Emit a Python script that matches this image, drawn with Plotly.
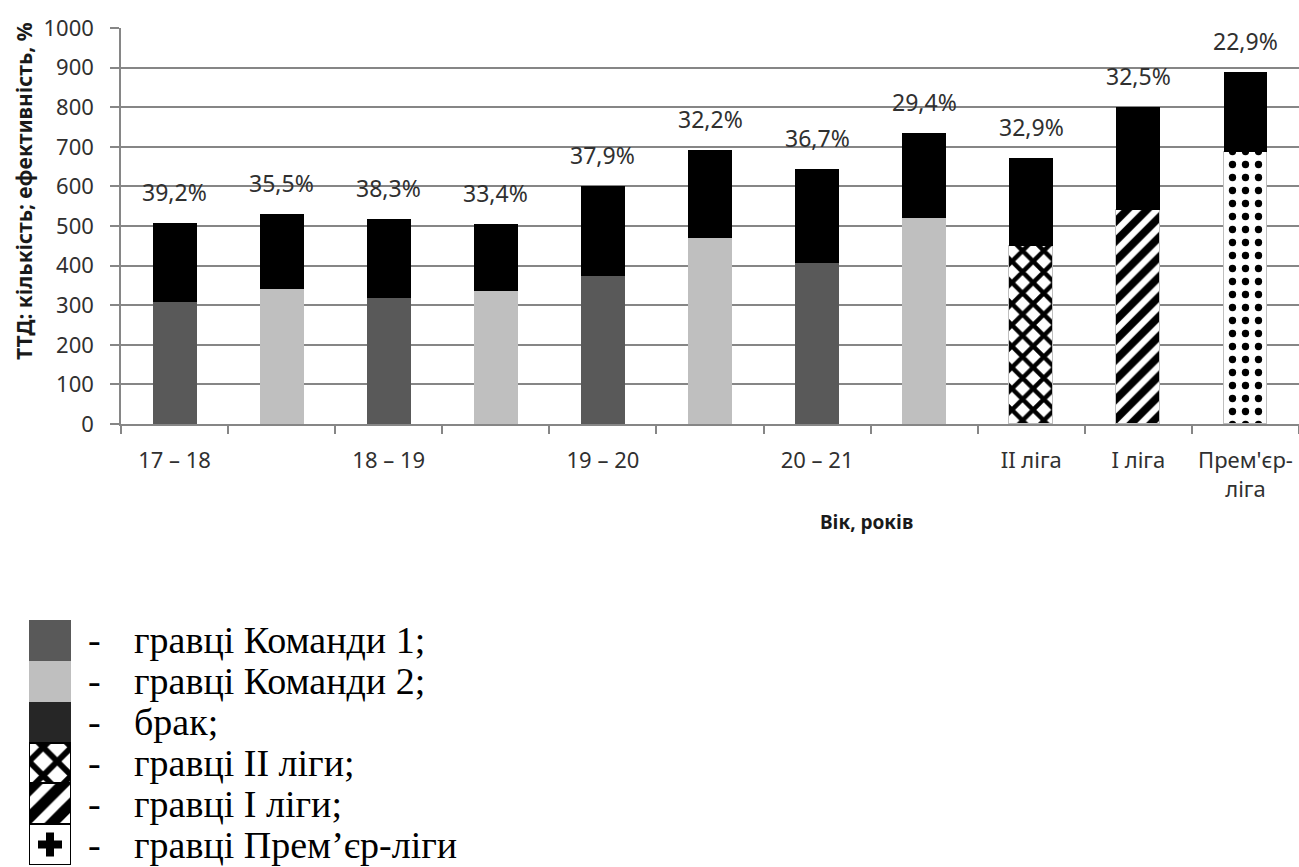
import plotly.graph_objects as go

# ---- data -------------------------------------------------------------
categories = ["17 – 18", "", "18 – 19", "", "19 – 20", "", "20 – 21", "",
              "II ліга", "I ліга", "Прем'єр-<br>ліга"]

team1_pos = [0, 2, 4, 6]
team1_players = [308, 319, 373, 407]

team2_pos = [1, 3, 5, 7]
team2_players = [342, 337, 469, 519]

league2_players = [450]
league1_players = [540]
premier_players = [686]

defects = [199, 188, 198, 169, 228, 223, 236, 216, 221, 260, 204]
efficiency_labels = ["39,2%", "35,5%", "38,3%", "33,4%", "37,9%", "32,2%",
                     "36,7%", "29,4%", "32,9%", "32,5%", "22,9%"]

legend_names = ["гравці Команди 1;", "гравці Команди 2;", "брак;",
                "гравці II ліги;", "гравці I ліги;", "гравці Прем’єр-ліги"]

# ---- styles -----------------------------------------------------------
W, H = 1299, 867
TEAM1 = "#595959"
TEAM2 = "#bfbfbf"
DEFECT = "#000000"
GRID = "#868686"
TXT = "#303030"
SANS = "Noto Sans"
SERIF = "Liberation Serif"
BAR_W = 0.41

pat_line = dict(width=1, color="#bfbfbf")
diamond = dict(shape="x", fgcolor="black", bgcolor="white", size=15, solidity=0.5, fillmode="replace")
hound = dict(shape="/", fgcolor="black", bgcolor="white", size=14, solidity=0.55, fillmode="replace")
crosses = dict(shape=".", fgcolor="black", bgcolor="white", size=13, solidity=0.25, fillmode="replace")

n = len(categories)
idx = list(range(n))
bottoms = [0] * n
for p, v in zip(team1_pos, team1_players):
    bottoms[p] = v
for p, v in zip(team2_pos, team2_players):
    bottoms[p] = v
bottoms[8] = league2_players[0]
bottoms[9] = league1_players[0]
bottoms[10] = premier_players[0]
totals = [b + d for b, d in zip(bottoms, defects)]

fig = go.Figure()

# ---- main stacked bars --------------------------------------------------
fig.add_trace(go.Bar(x=team1_pos, y=team1_players, width=BAR_W,
                     marker=dict(color=TEAM1, line=dict(width=0)), showlegend=False))
fig.add_trace(go.Bar(x=team2_pos, y=team2_players, width=BAR_W,
                     marker=dict(color=TEAM2, line=dict(width=0)), showlegend=False))
fig.add_trace(go.Bar(x=[8], y=league2_players, width=BAR_W,
                     marker=dict(color="white", pattern=diamond, line=pat_line), showlegend=False))
fig.add_trace(go.Bar(x=[9], y=league1_players, width=BAR_W,
                     marker=dict(color="white", pattern=hound, line=pat_line), showlegend=False))
fig.add_trace(go.Bar(x=[10], y=premier_players, width=BAR_W,
                     marker=dict(color="white", pattern=crosses, line=pat_line), showlegend=False))
fig.add_trace(go.Bar(x=idx, y=defects, width=BAR_W,
                     marker=dict(color=DEFECT, line=dict(width=0)), showlegend=False))

# ---- key swatches (stacked one per row on their own axes) --------------
key_styles = [
    dict(color=TEAM1, line=dict(width=0)),
    dict(color=TEAM2, line=dict(width=0)),
    dict(color="#262626", line=dict(width=0)),
    dict(color="white", pattern=dict(diamond, size=20, solidity=0.5), line=dict(width=2.5, color="black")),
    dict(color="white", pattern=dict(hound, size=20), line=dict(width=2.5, color="black")),
    dict(color="white", line=dict(width=2.5, color="black")),
]
for st in key_styles:
    fig.add_trace(go.Bar(x=[0.5], y=[1], width=1, marker=st, xaxis="x2", yaxis="y2",
                         showlegend=False, hoverinfo="skip"))
# single cross glyph inside the last key box
fig.add_trace(go.Scatter(x=[0.5], y=[len(legend_names) - 0.5], mode="markers",
                         marker=dict(symbol="cross", size=20, color="black"),
                         xaxis="x2", yaxis="y2", showlegend=False, hoverinfo="skip"))

annotations = []
# efficiency labels above each bar
for i, (t, lab) in enumerate(zip(totals, efficiency_labels)):
    annotations.append(dict(x=i, y=t, xref="x", yref="y", text=lab, showarrow=False,
                            yshift=31, yanchor="middle",
                            font=dict(family=SANS, size=23, color=TXT)))
# axis titles
annotations.append(dict(x=24 / W, y=1 - 191 / H, xref="paper", yref="paper",
                        text="<b>ТТД: кількість; ефективність, %</b>", textangle=-90,
                        showarrow=False, xanchor="center", yanchor="middle",
                        font=dict(family=SANS, size=21, color="#1a1a1a")))
annotations.append(dict(x=866 / W, y=1 - 522 / H, xref="paper", yref="paper",
                        text="<b>Вік, років</b>", showarrow=False,
                        xanchor="center", yanchor="middle",
                        font=dict(family=SANS, size=19, color="#1a1a1a")))
# key text
for i, name in enumerate(legend_names):
    annotations.append(dict(x=86 / W, y=i + 0.5, xref="paper", yref="y2", text="-",
                            showarrow=False, xanchor="left", yanchor="middle",
                            font=dict(family=SERIF, size=38, color="black")))
    annotations.append(dict(x=132 / W, y=i + 0.5, xref="paper", yref="y2", text=name,
                            showarrow=False, xanchor="left", yanchor="middle",
                            font=dict(family=SERIF, size=38, color="black")))

fig.update_layout(
    width=W, height=H,
    margin=dict(l=0, r=0, t=0, b=0),
    paper_bgcolor="white", plot_bgcolor="white",
    barmode="stack", bargap=0,
    showlegend=False,
    annotations=annotations,
    xaxis=dict(
        domain=[121 / W, 1], range=[-0.5, n - 0.5], automargin=False,
        tickmode="array", tickvals=idx, ticktext=categories,
        ticks="", ticklabelstandoff=16,
        tickfont=dict(family=SANS, size=22, color=TXT),
        showline=True, linecolor=GRID, linewidth=1.5,
        showgrid=False, zeroline=False,
        minor=dict(tickmode="array", tickvals=[k - 0.5 for k in range(n + 1)],
                   ticks="outside", ticklen=8, tickcolor=GRID, tickwidth=1.5, showgrid=False),
    ),
    yaxis=dict(
        domain=[1 - 424 / H, 1 - 28 / H], range=[0, 1000], automargin=False,
        tickmode="linear", tick0=0, dtick=100,
        ticks="outside", ticklen=9, tickcolor=GRID, tickwidth=1.5,
        ticklabelstandoff=12,
        tickfont=dict(family=SANS, size=22, color=TXT),
        showgrid=True, gridcolor=GRID, gridwidth=1.5,
        showline=True, linecolor=GRID, linewidth=1.5, zeroline=False,
    ),
    xaxis2=dict(domain=[29 / W, 71 / W], range=[0, 1], visible=False, fixedrange=True),
    yaxis2=dict(domain=[1 - 865 / H, 1 - 620 / H], range=[6, 0], visible=False, fixedrange=True),
)

fig.write_html("out.html")
